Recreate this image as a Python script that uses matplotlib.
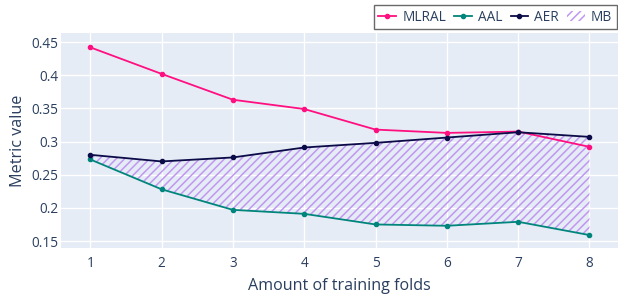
import numpy as np
import matplotlib
matplotlib.use('Agg')
import matplotlib.pyplot as plt

plt.rcParams['font.family'] = ['Open Sans', 'DejaVu Sans']
plt.rcParams['hatch.linewidth'] = 1.1

# data
folds = [1, 2, 3, 4, 5, 6, 7, 8]
mlral = [0.442, 0.402, 0.363, 0.349, 0.318, 0.313, 0.315, 0.292]
aal = [0.273, 0.228, 0.197, 0.191, 0.175, 0.173, 0.179, 0.159]
aer = [0.280, 0.270, 0.276, 0.291, 0.298, 0.306, 0.314, 0.307]
y_ticks = [0.15, 0.2, 0.25, 0.3, 0.35, 0.4, 0.45]
y_tick_labels = ['0.15', '0.2', '0.25', '0.3', '0.35', '0.4', '0.45']

txt = '#2a3f5f'
fig = plt.figure(figsize=(6.18, 2.94), dpi=100)
ax = fig.add_axes([61/618, 46/294, 557/618, 215/294])
ax.set_facecolor('#E5ECF6')

ax.fill_between(folds, aal, aer, facecolor='none', edgecolor='#c197f0',
                hatch='////', linewidth=0, label='MB', zorder=2)
ax.plot(folds, mlral, color='#ff0f80', marker='o', markersize=3, linewidth=1.3,
        label='MLRAL', zorder=3)
ax.plot(folds, aal, color='#00857c', marker='o', markersize=3, linewidth=1.3,
        label='AAL', zorder=3)
ax.plot(folds, aer, color='#0b0b48', marker='o', markersize=3, linewidth=1.3,
        label='AER', zorder=3)

ax.set_xlim(0.59, 8.4)
ax.set_ylim(0.1395, 0.4636)
ax.set_xticks(folds)
ax.set_yticks(y_ticks)
ax.set_yticklabels(y_tick_labels)
ax.grid(color='white', linewidth=1)
ax.set_axisbelow(True)
for s in ax.spines.values():
    s.set_visible(False)
ax.tick_params(length=0, labelsize=9.8, colors=txt)
ax.tick_params(axis='y', pad=2)
ax.tick_params(axis='x', pad=6)
ax.set_xlabel('Amount of training folds', fontsize=11.6, color=txt, labelpad=5)
ax.set_ylabel('Metric value', fontsize=11.6, color=txt, labelpad=4)

h, l = ax.get_legend_handles_labels()
order = [1, 2, 3, 0]
leg = fig.legend([h[i] for i in order], [l[i] for i in order], loc='upper right',
                 bbox_to_anchor=(1.003, 0.993), ncol=4, fontsize=9.8, frameon=True,
                 fancybox=False, edgecolor='#444444', handlelength=1.3,
                 handletextpad=0.45, columnspacing=0.6, borderpad=0.35,
                 borderaxespad=0.2, labelcolor=txt)
leg.get_frame().set_linewidth(1)

fig.savefig('out.png', dpi=100)
